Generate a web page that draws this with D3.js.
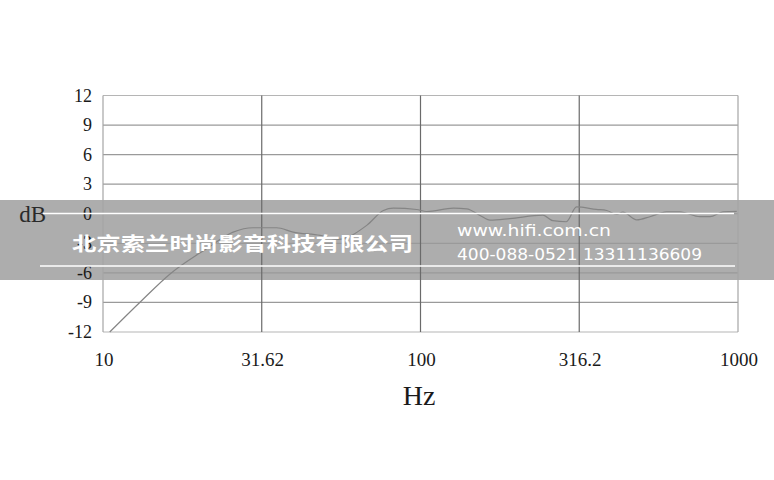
<!DOCTYPE html>
<html>
<head>
<meta charset="utf-8">
<script src="https://cdn.jsdelivr.net/npm/d3@7/dist/d3.min.js"></script>
<style>
  body { margin: 0; background: #fff; }
  svg { display: block; }
</style>
</head>
<body>
<script>
const freqs = [10.5, 13.1, 16.3, 21.2, 25.7, 29.7, 35.2, 39.7, 48.3, 55, 67.7, 76.4, 82.1, 97.3, 104.6,
  126.9, 139.8, 154, 165.5, 191, 243, 261, 288, 310, 358, 386, 415, 434, 480, 528, 596, 656, 759, 817, 897, 991]
const levels = [-12.0, -8.95, -6.08, -3.54, -1.86, -1.42, -1.42, -1.86, -2.2, -2.6, -1.18, 0.33, 0.57, 0.43, 0.23,
  0.57, 0.5, -0.17, -0.65, -0.5, -0.14, -0.7, -0.81, 0.69, 0.44, 0.33, -0.07, 0.16, -0.63, -0.3, 0.2, 0.2, -0.3, -0.3, 0.2, 0.25]

const xTicks = [10, 31.62, 100, 316.2, 1000]
const xTickLabels = ["10", "31.62", "100", "316.2", "1000"]
const yTicks = [-12, -9, -6, -3, 0, 3, 6, 9, 12]

const companyName = "北京索兰时尚影音科技有限公司"
const siteLines = ["www.hifi.com.cn", "400-088-0521  13311136609"]

const width = 774
const height = 480
const margin = { top: 95.5, right: 36, bottom: 148, left: 103 }

const svg = d3.select("body").append("svg")
    .attr("width", width)
    .attr("height", height)

const x = d3.scaleLog()
    .domain([10, 1000])
    .range([margin.left, width - margin.right])

const y = d3.scaleLinear()
    .domain([-12, 12])
    .range([height - margin.bottom, margin.top])

// grey watermark band sits under the chart, its white marks go on top
svg.append("rect")
    .attr("x", 0)
    .attr("y", 200)
    .attr("width", width)
    .attr("height", 80)
    .attr("fill", "#adadad")

const grid = svg.append("g")

// horizontal grid
grid.selectAll("line.h")
    .data(yTicks)
    .enter()
    .append("line")
    .attr("class", "h")
    .attr("x1", x(10))
    .attr("x2", x(1000))
    .attr("y1", d => y(d))
    .attr("y2", d => y(d))
    .attr("stroke", d => (d === 12 || d === -12) ? "#b5b5b5" : "#9a9a9a")
    .attr("stroke-width", 1.2)

// vertical grid
grid.selectAll("line.v")
    .data(xTicks)
    .enter()
    .append("line")
    .attr("class", "v")
    .attr("x1", d => x(d))
    .attr("x2", d => x(d))
    .attr("y1", y(12))
    .attr("y2", y(-12))
    .attr("stroke", d => (d === 10 || d === 1000) ? "#a5a5a5" : "#6a6a6a")
    .attr("stroke-width", 1.2)

// curve
const line = d3.line()
    .x((d, i) => x(freqs[i]))
    .y(d => y(d))
    .curve(d3.curveMonotoneX)

svg.append("path")
    .datum(levels)
    .attr("d", line)
    .attr("fill", "none")
    .attr("stroke", "#858585")
    .attr("stroke-width", 1.2)

// y tick labels
svg.append("g")
    .attr("font-family", "Liberation Serif, Times New Roman, serif")
    .attr("font-size", 18)
    .attr("fill", "#1a1a1a")
    .selectAll("text")
    .data(yTicks)
    .enter()
    .append("text")
    .attr("x", 92)
    .attr("y", d => y(d) + 6)
    .attr("text-anchor", "end")
    .text(d => d)

// x tick labels
svg.append("g")
    .attr("font-family", "Liberation Serif, Times New Roman, serif")
    .attr("font-size", 19)
    .attr("fill", "#1a1a1a")
    .selectAll("text")
    .data(xTicks)
    .enter()
    .append("text")
    .attr("x", d => x(d) + 1)
    .attr("y", 366)
    .attr("text-anchor", "middle")
    .text((d, i) => xTickLabels[i])

svg.append("text")
    .attr("x", 419)
    .attr("y", 405)
    .attr("text-anchor", "middle")
    .attr("font-family", "Liberation Serif, Times New Roman, serif")
    .attr("font-size", 28)
    .attr("fill", "#1a1a1a")
    .text("Hz")

svg.append("text")
    .attr("x", 46)
    .attr("y", 222)
    .attr("text-anchor", "end")
    .attr("font-family", "Liberation Serif, Times New Roman, serif")
    .attr("font-size", 23)
    .attr("fill", "#2a2a2a")
    .text("dB")

// watermark marks
const band = svg.append("g")

band.append("line")
    .attr("x1", 43).attr("x2", 734)
    .attr("y1", 213.5).attr("y2", 213.5)
    .attr("stroke", "#fff")
    .attr("stroke-width", 1.5)

band.append("line")
    .attr("x1", 40).attr("x2", 735)
    .attr("y1", 266).attr("y2", 266)
    .attr("stroke", "#fff")
    .attr("stroke-width", 1.5)

band.append("text")
    .attr("x", 72)
    .attr("y", 251)
    .attr("font-family", "Noto Sans CJK SC, sans-serif")
    .attr("font-weight", 700)
    .attr("font-size", 19)
    .attr("fill", "#fff")
    .attr("textLength", 341)
    .attr("lengthAdjust", "spacingAndGlyphs")
    .text(companyName)

band.selectAll("text.site")
    .data(siteLines)
    .enter()
    .append("text")
    .attr("class", "site")
    .attr("x", 457)
    .attr("y", (d, i) => 236 + i * 23.5)
    .attr("font-family", "DejaVu Sans, sans-serif")
    .attr("font-size", 16)
    .attr("fill", "#fff")
    .attr("textLength", (d, i) => i === 0 ? 154 : 245)
    .attr("lengthAdjust", "spacingAndGlyphs")
    .text(d => d)
</script>
</body>
</html>
